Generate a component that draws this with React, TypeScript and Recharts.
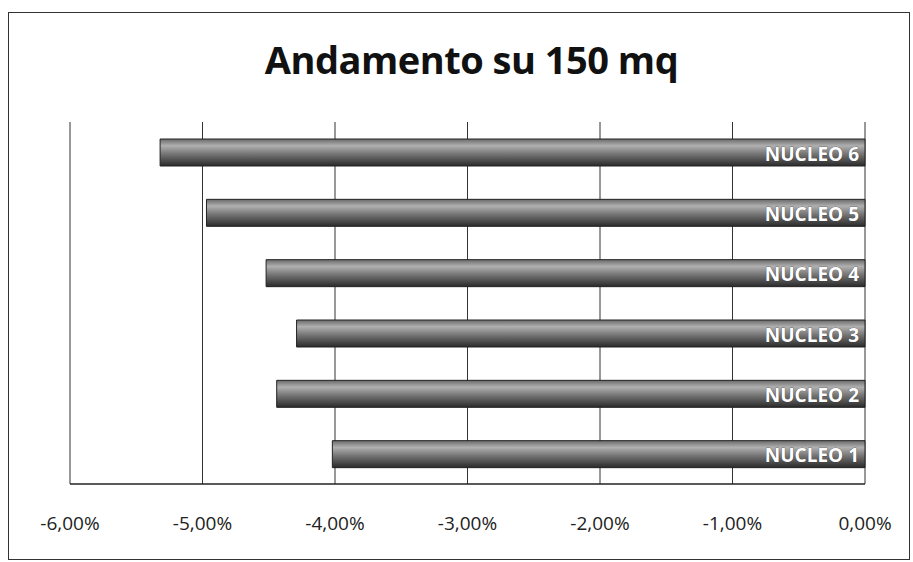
import { BarChart, Bar, XAxis, YAxis, CartesianGrid, LabelList } from "recharts";

const categories = ["NUCLEO 1", "NUCLEO 2", "NUCLEO 3", "NUCLEO 4", "NUCLEO 5", "NUCLEO 6"];
const values = [-4.02, -4.44, -4.29, -4.52, -4.97, -5.32];
const xTicks = [-6, -5, -4, -3, -2, -1, 0];

const data = categories.map((name, i) => ({ name, value: values[i] }));

const fmt = (v: number) => `${v.toFixed(2).replace(".", ",")}%`;

const InsideLabel = (props: any) => {
  const { x, width, y, height, value } = props;
  const right = Math.max(x, x + width);
  return (
    <text
      x={right - 6}
      y={y + height / 2 + 1}
      textAnchor="end"
      dominantBaseline="central"
      fill="#fff"
      stroke="#333"
      strokeWidth={0.5}
      paintOrder="stroke"
      style={{ fontFamily: "'Open Sans', sans-serif", fontWeight: 700, fontSize: 19 }}
    >
      {value}
    </text>
  );
};

export default function App() {
  return (
    <div style={{ position: "absolute", left: 0, top: 0, width: 913, height: 562, background: "#fff" }}>
      <div
        style={{
          position: "absolute",
          left: 8,
          top: 12,
          width: 900,
          height: 546,
          border: "1.5px solid #333",
        }}
      />
      <div
        style={{
          position: "absolute",
          left: 30,
          width: 883,
          top: 33,
          textAlign: "center",
          fontFamily: "'Open Sans', sans-serif",
          fontWeight: "bold",
          fontSize: 38,
          color: "#111",
          letterSpacing: -0.5,
        }}
      >
        Andamento su 150 mq
      </div>
      <BarChart
        width={913}
        height={562}
        data={data}
        layout="vertical"
        margin={{ top: 122, right: 48, left: 70, bottom: 0 }}
        barSize={27}
        style={{ position: "absolute", left: 0, top: 0 }}
      >
        <defs>
          <linearGradient id="barGrad" x1="0" y1="0" x2="0" y2="1">
            <stop offset="0%" stopColor="#6a6a6a" />
            <stop offset="25%" stopColor="#b0b0b0" />
            <stop offset="55%" stopColor="#767676" />
            <stop offset="100%" stopColor="#2a2a2a" />
          </linearGradient>
        </defs>
        <CartesianGrid horizontal={false} stroke="#333" strokeWidth={1} />
        <XAxis
          type="number"
          domain={[-6, 0]}
          ticks={xTicks}
          tickFormatter={fmt}
          axisLine={{ stroke: "#222", strokeWidth: 1.5 }}
          tickLine={false}
          height={78}
          tickMargin={27}
          tick={{ fill: "#222", fontSize: 19, fontFamily: "'Open Sans', sans-serif" }}
        />
        <YAxis type="category" dataKey="name" reversed hide />
        <Bar dataKey="value" fill="url(#barGrad)" stroke="#222" strokeWidth={1} isAnimationActive={false}>
          <LabelList dataKey="name" content={InsideLabel} />
        </Bar>
      </BarChart>
    </div>
  );
}
